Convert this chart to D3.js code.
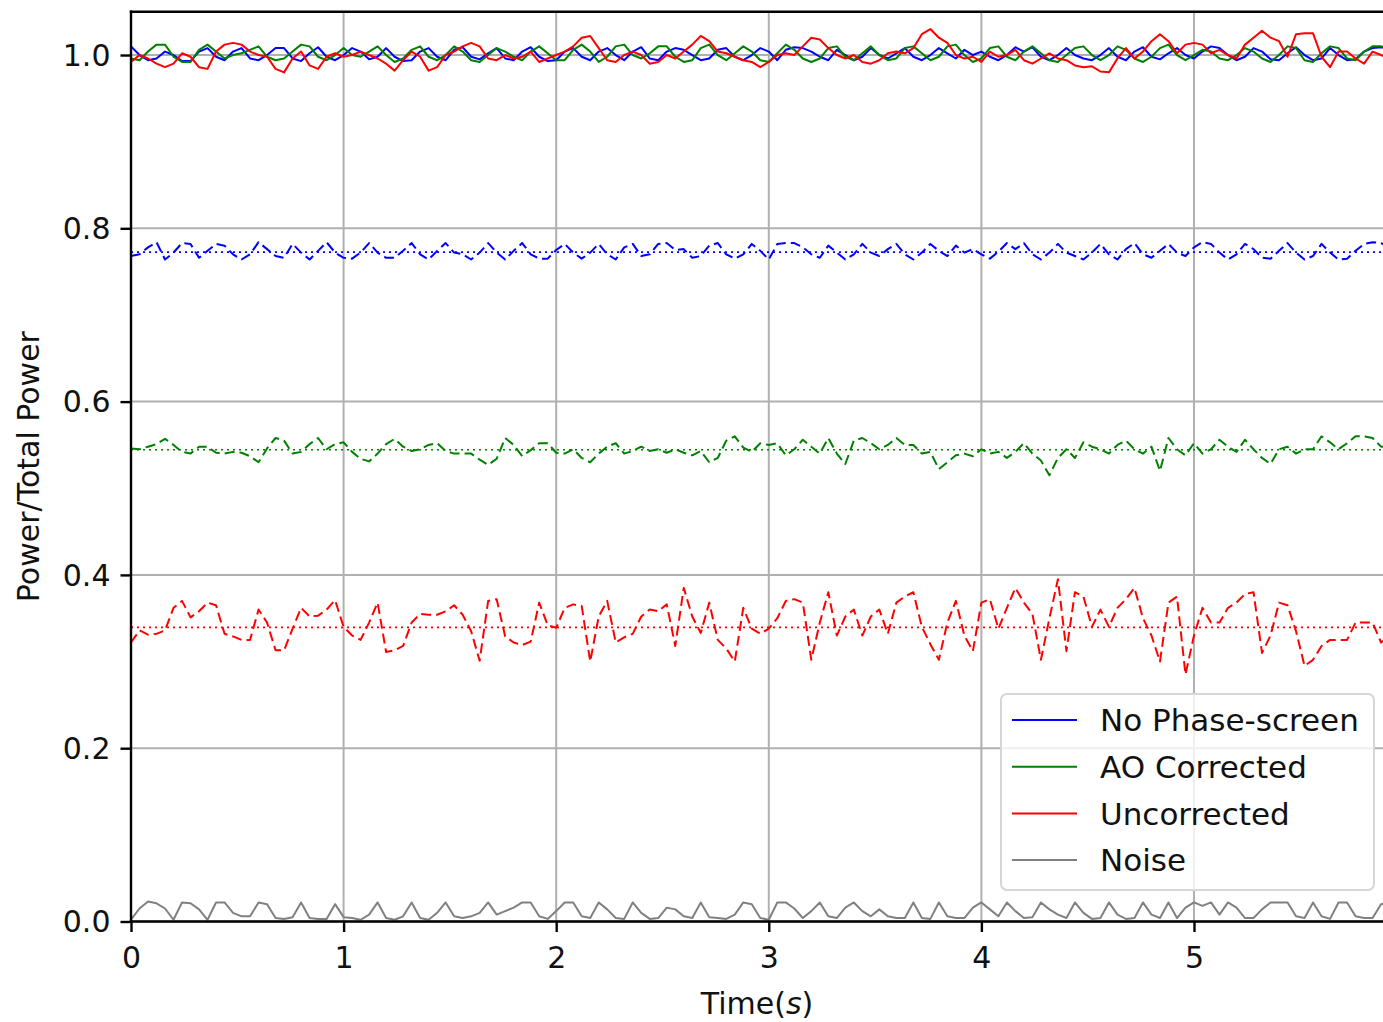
<!DOCTYPE html>
<html>
<head>
<meta charset="utf-8">
<script src="https://cdn.jsdelivr.net/npm/d3@7"></script>
<style>
  body { margin: 0; background: #fff; }
  svg { display: block; font-family: "DejaVu Sans", sans-serif; }
</style>
</head>
<body>
<svg id="chart" width="1383" height="1022"></svg>
<script>
// sample spacing of every series, seconds
const DT = 0.04;

const xTicks = [0, 1, 2, 3, 4, 5];
const yTicks = [0.0, 0.2, 0.4, 0.6, 0.8, 1.0];

const legendNames = ["No Phase-screen", "AO Corrected", "Uncorrected", "Noise"];

// time-averaged levels (dotted lines)
const blueMean = 0.7725;
const greenMean = 0.5445;
const redMean = 0.3395;

const blueSolid = [
  1.010, 1.000, 0.994, 0.996, 1.004, 1.000, 0.993, 0.993, 1.004, 1.008,
  0.998, 0.994, 1.004, 1.008, 0.996, 0.994, 1.000, 1.008, 1.008, 0.996,
  0.993, 1.002, 1.009, 0.998, 0.994, 1.000, 1.008, 1.004, 0.995, 0.998,
  1.008, 0.998, 0.993, 0.994, 1.004, 1.008, 0.998, 0.994, 1.006, 1.009,
  0.998, 0.995, 1.002, 1.008, 0.996, 0.994, 1.004, 1.009, 0.998, 0.993,
  0.994, 1.004, 1.008, 0.998, 0.994, 1.004, 1.008, 1.000, 0.994, 1.004,
  1.009, 0.996, 0.994, 1.004, 1.008, 1.006, 1.000, 0.994, 0.996, 1.006,
  1.008, 0.998, 0.994, 1.000, 1.008, 1.004, 0.994, 1.006, 1.009, 1.008,
  1.004, 0.998, 0.994, 1.006, 1.000, 0.994, 0.998, 1.008, 1.000, 0.996,
  1.002, 1.008, 0.998, 0.994, 1.000, 1.008, 1.002, 0.996, 1.006, 1.000,
  1.004, 0.998, 0.994, 1.000, 1.009, 1.004, 1.009, 0.998, 0.994, 1.000,
  1.008, 1.000, 0.996, 0.994, 1.000, 1.008, 0.998, 0.994, 1.004, 1.009,
  0.998, 0.995, 1.002, 1.008, 1.000, 0.996, 1.004, 1.010, 1.008, 1.000,
  0.994, 0.998, 1.008, 1.004, 0.995, 0.994, 1.002, 1.009, 1.000, 0.994,
  0.996, 1.008, 1.000, 0.994, 0.995, 1.004, 1.008, 1.009, 1.008
];

const greenSolid = [
  0.996, 0.994, 1.004, 1.012, 1.012, 0.998, 0.992, 0.992, 1.006, 1.012,
  1.004, 0.996, 1.000, 1.002, 1.006, 1.010, 0.998, 0.994, 0.996, 1.004,
  1.012, 1.010, 0.998, 0.994, 1.000, 1.008, 1.000, 0.998, 1.004, 1.010,
  1.000, 0.992, 0.996, 1.006, 1.010, 0.998, 0.994, 1.000, 1.010, 1.004,
  0.994, 0.992, 1.000, 1.008, 1.004, 0.998, 0.994, 1.004, 1.010, 1.002,
  0.994, 0.994, 1.006, 1.012, 1.004, 0.992, 0.998, 1.010, 1.012, 1.000,
  0.996, 1.002, 1.010, 1.010, 0.998, 0.992, 0.994, 1.008, 1.012, 1.000,
  0.994, 1.002, 1.010, 1.004, 0.994, 0.992, 1.002, 1.012, 1.006, 0.996,
  0.992, 0.996, 1.008, 1.010, 0.998, 0.994, 1.002, 1.010, 1.000, 0.994,
  0.996, 1.008, 1.010, 1.002, 0.994, 0.998, 1.010, 1.012, 1.000, 0.992,
  0.996, 1.008, 1.010, 0.998, 0.994, 1.004, 1.010, 1.002, 0.994, 0.992,
  1.000, 1.008, 1.010, 1.000, 0.994, 1.000, 1.010, 1.006, 0.996, 0.992,
  0.998, 1.008, 1.012, 1.000, 0.994, 1.000, 1.006, 1.004, 0.996, 0.994,
  1.000, 1.008, 1.004, 0.996, 0.992, 1.000, 1.010, 1.008, 0.994, 0.992,
  1.002, 1.010, 1.008, 0.996, 0.994, 1.004, 1.010, 1.010, 1.008
];

const redSolid = [
  0.992, 1.000, 0.996, 0.990, 0.986, 0.990, 1.002, 0.998, 0.986, 0.984,
  1.004, 1.012, 1.014, 1.012, 1.004, 1.000, 0.998, 0.984, 0.980, 0.996,
  1.004, 0.988, 0.984, 0.998, 1.002, 0.998, 1.000, 1.004, 1.000, 0.996,
  0.990, 0.982, 0.994, 1.004, 0.998, 0.982, 0.986, 1.000, 1.004, 1.010,
  1.014, 1.010, 0.996, 0.994, 1.000, 0.996, 0.998, 1.004, 0.992, 0.996,
  1.000, 1.004, 1.010, 1.020, 1.022, 1.008, 0.994, 0.992, 1.000, 1.004,
  1.000, 0.990, 0.992, 1.000, 0.996, 1.004, 1.012, 1.022, 1.016, 1.004,
  1.002, 0.998, 0.994, 0.992, 0.986, 0.992, 1.000, 1.002, 1.000, 1.010,
  1.020, 1.018, 1.008, 1.000, 0.996, 1.000, 0.992, 0.990, 0.994, 1.002,
  1.004, 1.002, 1.008, 1.024, 1.030, 1.020, 1.014, 1.000, 0.996, 0.998,
  0.992, 1.004, 0.998, 1.000, 1.006, 0.994, 0.990, 0.996, 1.002, 0.996,
  0.994, 0.988, 0.986, 0.987, 0.981, 0.980, 0.996, 1.008, 0.996, 1.004,
  1.016, 1.024, 1.016, 1.002, 1.012, 1.014, 1.012, 1.002, 1.006, 1.000,
  0.996, 1.012, 1.020, 1.028, 1.020, 1.016, 0.998, 1.024, 1.025, 1.025,
  0.998, 0.986, 1.004, 1.004, 0.996, 0.990, 1.004, 1.000, 0.996
];

const blueDashed = [
  0.768, 0.770, 0.778, 0.784, 0.764, 0.772, 0.783, 0.782, 0.766, 0.774,
  0.782, 0.780, 0.770, 0.764, 0.770, 0.784, 0.776, 0.768, 0.766, 0.782,
  0.772, 0.764, 0.774, 0.784, 0.772, 0.766, 0.765, 0.772, 0.783, 0.772,
  0.766, 0.766, 0.774, 0.783, 0.770, 0.764, 0.774, 0.783, 0.772, 0.770,
  0.764, 0.772, 0.783, 0.772, 0.764, 0.774, 0.783, 0.770, 0.765, 0.765,
  0.775, 0.782, 0.772, 0.765, 0.772, 0.782, 0.770, 0.764, 0.778, 0.782,
  0.768, 0.770, 0.782, 0.783, 0.775, 0.776, 0.766, 0.768, 0.780, 0.783,
  0.770, 0.765, 0.770, 0.782, 0.774, 0.764, 0.782, 0.783, 0.783, 0.778,
  0.770, 0.766, 0.780, 0.772, 0.764, 0.770, 0.782, 0.772, 0.768, 0.776,
  0.782, 0.770, 0.764, 0.772, 0.782, 0.774, 0.768, 0.780, 0.772, 0.776,
  0.770, 0.765, 0.773, 0.783, 0.776, 0.783, 0.770, 0.764, 0.772, 0.782,
  0.772, 0.768, 0.764, 0.772, 0.782, 0.770, 0.764, 0.776, 0.783, 0.770,
  0.766, 0.774, 0.782, 0.772, 0.768, 0.778, 0.784, 0.782, 0.772, 0.764,
  0.770, 0.782, 0.776, 0.766, 0.765, 0.774, 0.783, 0.772, 0.764, 0.768,
  0.782, 0.772, 0.764, 0.765, 0.774, 0.782, 0.784, 0.783, 0.778
];

const greenDashed = [
  0.546, 0.545, 0.548, 0.551, 0.557, 0.550, 0.542, 0.540, 0.548, 0.548,
  0.541, 0.540, 0.542, 0.541, 0.537, 0.530, 0.546, 0.558, 0.555, 0.540,
  0.542, 0.551, 0.558, 0.545, 0.551, 0.553, 0.542, 0.534, 0.531, 0.540,
  0.551, 0.557, 0.548, 0.543, 0.545, 0.550, 0.552, 0.543, 0.540, 0.540,
  0.540, 0.533, 0.527, 0.534, 0.558, 0.550, 0.537, 0.544, 0.552, 0.552,
  0.541, 0.540, 0.545, 0.535, 0.530, 0.540, 0.548, 0.552, 0.540, 0.543,
  0.548, 0.543, 0.545, 0.541, 0.545, 0.541, 0.538, 0.543, 0.530, 0.535,
  0.555, 0.560, 0.547, 0.542, 0.552, 0.550, 0.552, 0.538, 0.545, 0.556,
  0.548, 0.540, 0.558, 0.540, 0.528, 0.555, 0.558, 0.552, 0.545, 0.550,
  0.558, 0.550, 0.550, 0.540, 0.542, 0.522, 0.530, 0.538, 0.540, 0.537,
  0.545, 0.540, 0.542, 0.535, 0.542, 0.552, 0.540, 0.532, 0.515, 0.535,
  0.545, 0.535, 0.553, 0.548, 0.545, 0.540, 0.550, 0.555, 0.545, 0.540,
  0.548, 0.520, 0.558, 0.545, 0.538, 0.552, 0.540, 0.545, 0.556, 0.548,
  0.542, 0.556, 0.545, 0.535, 0.528, 0.545, 0.548, 0.540, 0.545, 0.545,
  0.560, 0.553, 0.545, 0.552, 0.560, 0.560, 0.558, 0.548, 0.548
];

const redDashed = [
  0.322, 0.336, 0.331, 0.332, 0.336, 0.362, 0.370, 0.351, 0.358, 0.368,
  0.365, 0.332, 0.329, 0.325, 0.325, 0.360, 0.345, 0.313, 0.313, 0.338,
  0.362, 0.352, 0.353, 0.360, 0.371, 0.340, 0.330, 0.325, 0.345, 0.368,
  0.311, 0.313, 0.318, 0.345, 0.355, 0.354, 0.354, 0.358, 0.365, 0.354,
  0.335, 0.301, 0.370, 0.372, 0.329, 0.322, 0.319, 0.323, 0.368, 0.342,
  0.339, 0.362, 0.366, 0.364, 0.300, 0.352, 0.370, 0.322, 0.328, 0.332,
  0.352, 0.360, 0.358, 0.366, 0.318, 0.385, 0.352, 0.333, 0.368, 0.325,
  0.315, 0.300, 0.362, 0.338, 0.332, 0.338, 0.350, 0.370, 0.372, 0.368,
  0.302, 0.345, 0.380, 0.330, 0.352, 0.360, 0.330, 0.352, 0.360, 0.332,
  0.368, 0.375, 0.380, 0.340, 0.320, 0.302, 0.345, 0.370, 0.330, 0.312,
  0.368, 0.372, 0.338, 0.362, 0.385, 0.368, 0.355, 0.302, 0.350, 0.395,
  0.312, 0.380, 0.375, 0.340, 0.360, 0.340, 0.362, 0.372, 0.385, 0.350,
  0.330, 0.300, 0.368, 0.375, 0.285, 0.330, 0.362, 0.345, 0.345, 0.362,
  0.368, 0.378, 0.380, 0.310, 0.330, 0.368, 0.365, 0.335, 0.295, 0.302,
  0.318, 0.325, 0.325, 0.325, 0.345, 0.345, 0.345, 0.322, 0.330
];

const noise = [
  0.002, 0.015, 0.023, 0.021, 0.015, 0.002, 0.022, 0.021, 0.014, 0.002,
  0.022, 0.022, 0.010, 0.006, 0.006, 0.022, 0.020, 0.004, 0.003, 0.005,
  0.022, 0.004, 0.003, 0.003, 0.020, 0.005, 0.004, 0.002, 0.008, 0.022,
  0.004, 0.002, 0.006, 0.022, 0.004, 0.002, 0.010, 0.022, 0.006, 0.004,
  0.006, 0.010, 0.022, 0.008, 0.012, 0.016, 0.022, 0.022, 0.006, 0.003,
  0.012, 0.022, 0.022, 0.006, 0.004, 0.022, 0.014, 0.004, 0.003, 0.022,
  0.010, 0.003, 0.004, 0.016, 0.014, 0.006, 0.004, 0.022, 0.005, 0.004,
  0.003, 0.008, 0.022, 0.020, 0.004, 0.002, 0.022, 0.022, 0.015, 0.004,
  0.012, 0.022, 0.006, 0.004, 0.016, 0.022, 0.012, 0.006, 0.014, 0.006,
  0.004, 0.004, 0.022, 0.004, 0.003, 0.022, 0.006, 0.004, 0.004, 0.016,
  0.022, 0.014, 0.006, 0.022, 0.012, 0.004, 0.005, 0.022, 0.014, 0.008,
  0.004, 0.022, 0.010, 0.003, 0.004, 0.022, 0.008, 0.003, 0.004, 0.022,
  0.008, 0.004, 0.022, 0.004, 0.016, 0.022, 0.018, 0.022, 0.008, 0.022,
  0.016, 0.004, 0.004, 0.014, 0.022, 0.022, 0.022, 0.006, 0.004, 0.022,
  0.006, 0.003, 0.022, 0.022, 0.006, 0.004, 0.004, 0.020, 0.022
];

function runchart() {
    const width = 1383;
    const height = 1022;
    const left = 131;
    const right = 1383.2;
    const top = 11.7;
    const bottom = 921.5;

    const svg = d3.select("#chart");

    const x = d3.scaleLinear().domain([0, 5.89]).range([left, right]);
    const y = d3.scaleLinear().domain([0, 1.05]).range([bottom, top]);

    svg.append("defs").append("clipPath")
        .attr("id", "plotclip")
      .append("rect")
        .attr("x", left)
        .attr("y", top)
        .attr("width", width - left)
        .attr("height", bottom - top);

    // grid
    const grid = svg.append("g").attr("id", "grid")
        .attr("stroke", "#b0b0b0")
        .attr("stroke-width", 2);
    grid.selectAll("line.gx")
      .data(xTicks)
      .join("line")
        .attr("class", "gx")
        .attr("x1", d => x(d)).attr("x2", d => x(d))
        .attr("y1", top).attr("y2", bottom);
    grid.selectAll("line.gy")
      .data(yTicks)
      .join("line")
        .attr("class", "gy")
        .attr("x1", left).attr("x2", width)
        .attr("y1", d => y(d)).attr("y2", d => y(d));

    const line = d3.line()
        .x((d, i) => x(i * DT))
        .y(d => y(d));

    const plot = svg.append("g")
        .attr("clip-path", "url(#plotclip)")
        .attr("fill", "none");

    // solid, dashed and dotted series, in the original draw order
    const series = [
      {data: blueSolid, color: "#0000ff", dash: null},
      {data: blueDashed, color: "#0000ff", dash: "10,5"},
      {data: greenSolid, color: "#008000", dash: null},
      {data: greenDashed, color: "#008000", dash: "10,5"},
      {data: redSolid, color: "#ff0000", dash: null},
      {data: redDashed, color: "#ff0000", dash: "10,5"},
      {data: noise, color: "#808080", dash: null}
    ];

    plot.selectAll("path.series")
      .data(series)
      .join("path")
        .attr("class", "series")
        .attr("stroke", d => d.color)
        .attr("stroke-width", 2)
        .attr("stroke-linejoin", "round")
        .attr("stroke-dasharray", d => d.dash)
        .attr("d", d => line(d.data));

    const means = [
      {value: blueMean, color: "#0000ff"},
      {value: greenMean, color: "#008000"},
      {value: redMean, color: "#ff0000"}
    ];

    plot.selectAll("line.mean")
      .data(means)
      .join("line")
        .attr("class", "mean")
        .attr("stroke", d => d.color)
        .attr("stroke-width", 1.6)
        .attr("stroke-dasharray", "2,4")
        .attr("x1", left).attr("x2", width)
        .attr("y1", d => y(d.value)).attr("y2", d => y(d.value));

    // axes
    const xAxis = d3.axisBottom(x)
        .tickValues(xTicks)
        .tickFormat(d3.format("d"))
        .tickSize(10.5)
        .tickPadding(15);
    const yAxis = d3.axisLeft(y)
        .tickValues(yTicks)
        .tickFormat(d3.format(".1f"))
        .tickSize(10.5)
        .tickPadding(10);

    const gx = svg.append("g")
        .attr("transform", `translate(0,${bottom})`)
        .call(xAxis);
    const gy = svg.append("g")
        .attr("transform", `translate(${left},0)`)
        .call(yAxis);

    [gx, gy].forEach(g => {
      g.select(".domain").remove();
      g.selectAll(".tick line").attr("stroke", "#000").attr("stroke-width", 2.4);
      g.selectAll(".tick text")
        .attr("fill", "#111")
        .style("font-family", "DejaVu Sans")
        .style("font-size", "30px");
    });
    gy.selectAll(".tick text").attr("dy", "0.34em");

    // spines
    svg.append("g")
        .attr("stroke", "#000")
        .attr("stroke-width", 2.4)
        .attr("stroke-linecap", "square")
        .selectAll("line")
      .data([
        [left, top, left, bottom],
        [left, bottom, width, bottom],
        [left, top, width, top]
      ])
      .join("line")
        .attr("x1", d => d[0]).attr("y1", d => d[1])
        .attr("x2", d => d[2]).attr("y2", d => d[3]);

    // axis labels
    const xl = svg.append("text")
        .attr("x", (left + right) / 2)
        .attr("y", 1014)
        .attr("text-anchor", "middle")
        .attr("fill", "#111")
        .style("font-size", "30px");
    xl.append("tspan").text("Time(");
    xl.append("tspan").style("font-style", "italic").text("s");
    xl.append("tspan").text(")");

    svg.append("text")
        .attr("transform", `translate(39,${(top + bottom) / 2}) rotate(-90)`)
        .attr("text-anchor", "middle")
        .attr("fill", "#111")
        .style("font-size", "30px")
        .text("Power/Total Power");

    // legend
    const legendColors = ["#0000ff", "#008000", "#ff0000", "#808080"];
    const legend = svg.append("g").attr("id", "legend");
    legend.append("rect")
        .attr("x", 1001).attr("y", 694)
        .attr("width", 373).attr("height", 196)
        .attr("rx", 6)
        .attr("fill", "#fff")
        .attr("fill-opacity", 0.8)
        .attr("stroke", "#d6d6d6")
        .attr("stroke-width", 2);

    const entry = legend.selectAll("g.entry")
      .data(legendNames)
      .join("g")
        .attr("class", "entry")
        .attr("transform", (d, i) => `translate(0,${720 + i * 46.7})`);
    entry.append("line")
        .attr("x1", 1012).attr("x2", 1077)
        .attr("stroke", (d, i) => legendColors[i])
        .attr("stroke-width", 2);
    entry.append("text")
        .attr("x", 1100)
        .attr("dy", "0.36em")
        .attr("fill", "#111")
        .style("font-size", "31px")
        .text(d => d);

    return;
}

runchart();
</script>
</body>
</html>
